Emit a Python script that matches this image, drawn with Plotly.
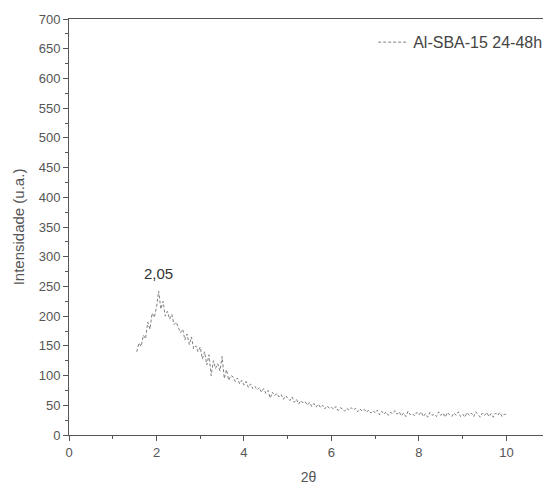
import numpy as np
import plotly.graph_objects as go

two_theta = np.round(np.arange(1.55, 10.001, 0.05), 2)
intensity = [
    140, 155, 149, 168, 162, 190, 178, 205, 198,
    215, 242, 212, 225, 200, 208, 195, 203, 186, 190,
    180, 172, 178, 160, 170, 152, 165, 145, 150, 140,
    148, 128, 140, 118, 135, 100, 125, 112, 120, 108,
    132, 95, 110, 92, 100, 98, 90, 96, 86, 92,
    84, 90, 80, 86, 78, 82, 76, 80, 72, 78,
    70, 75, 62, 72, 66, 70, 64, 68, 60, 66,
    62, 58, 64, 55, 60, 52, 58, 54, 56, 50,
    55, 48, 53, 47, 52, 46, 50, 44, 49, 45,
    47, 43, 48, 41, 46, 44, 40, 45, 42, 46,
    42, 45, 39, 44, 40, 43, 38, 42, 37, 41,
    37, 42, 34, 40, 35, 39, 33, 38, 36, 41,
    35, 39, 32, 37, 31, 40, 34, 36, 32, 38,
    34, 39, 31, 36, 30, 38, 33, 35, 31, 39,
    33, 37, 30, 38, 34, 31, 37, 33, 39, 31,
    35, 30, 38, 33, 37, 31, 39, 34, 30, 37,
    33, 38, 31, 36, 30, 37, 33, 38, 31, 35,
    34,
]
series_name = "Al-SBA-15 24-48h"
peak_label = "2,05"
peak_x = 2.05
peak_y = 242

FONT = "Liberation Sans, Arial"

fig = go.Figure()
fig.add_trace(go.Scatter(
    x=two_theta, y=intensity, mode="lines", name=series_name,
    line=dict(color="#808080", width=1, dash="3px,2px"),
))
fig.add_annotation(x=peak_x, y=peak_y, text=peak_label, showarrow=False,
                   yanchor="bottom", yshift=7,
                   font=dict(family=FONT, size=15, color="#333333"))

axis_common = dict(
    showgrid=False, zeroline=False, showline=True, linecolor="#555555",
    linewidth=1, mirror=True, ticks="outside", ticklen=5, tickcolor="#555555",
    tickfont=dict(family=FONT, size=13, color="#555555"),
    minor=dict(ticks="outside", ticklen=3, tickcolor="#555555"),
    automargin=False,
)
fig.update_xaxes(range=[0, 10.95], tick0=0, dtick=2, minor_dtick=1,
                 title=dict(text="2θ", font=dict(family=FONT, size=14, color="#555555"), standoff=16),
                 **axis_common)
fig.update_yaxes(range=[0, 700], tick0=0, dtick=50, minor_dtick=25,
                 title=dict(text="Intensidade (u.a.)", font=dict(family=FONT, size=15, color="#555555"), standoff=10),
                 **axis_common)
fig.update_layout(
    width=543, height=477,
    margin=dict(l=61, r=3, t=11, b=50, autoexpand=False),
    paper_bgcolor="white", plot_bgcolor="white",
    showlegend=True,
    legend=dict(x=0.635, xanchor="left", y=0.985, yanchor="top",
                bgcolor="rgba(0,0,0,0)", itemwidth=30,
                font=dict(family=FONT, size=16, color="#444444")),
)
fig.write_html("out.html")
